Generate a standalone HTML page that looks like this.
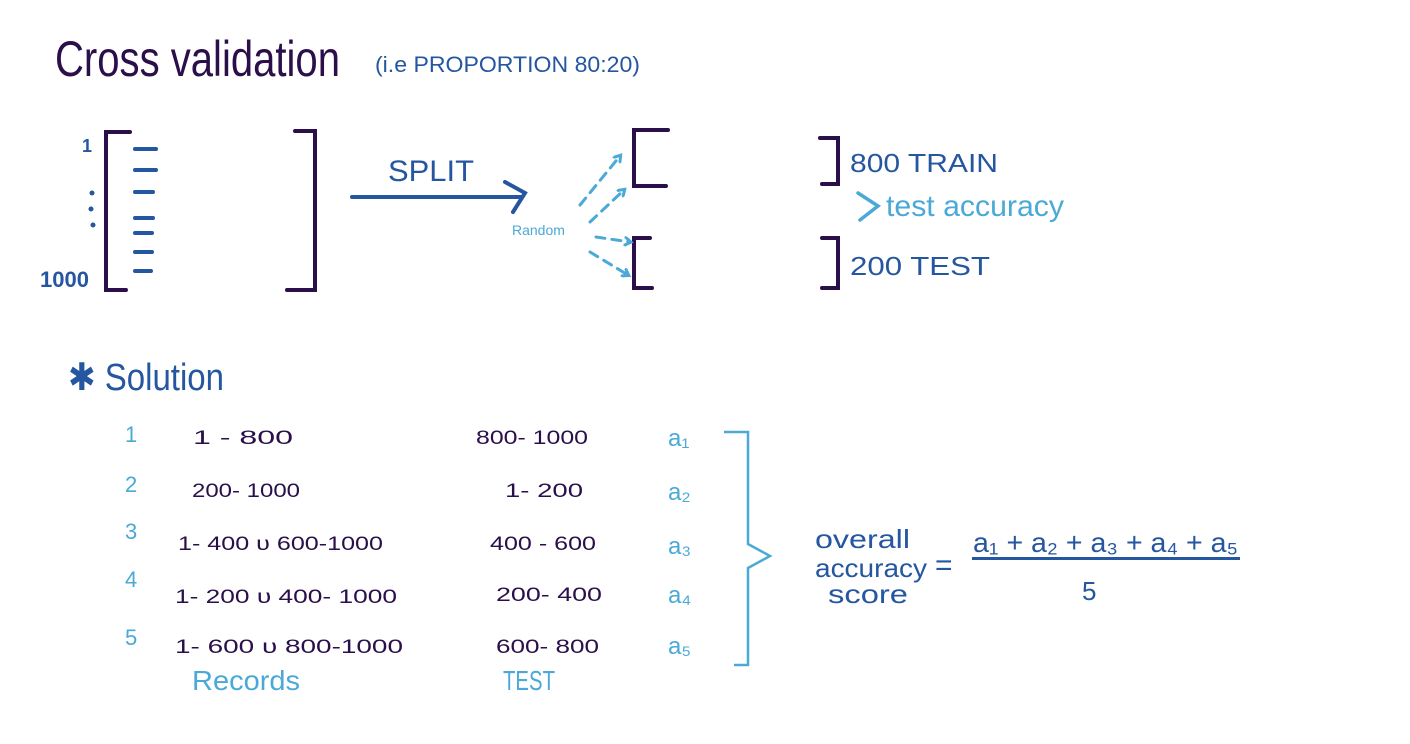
<!DOCTYPE html>
<html><head><style>
html,body{margin:0;padding:0;background:#fff;width:1410px;height:744px;overflow:hidden}
svg text{font-family:"Liberation Sans",sans-serif}
</style></head><body>
<svg width="1410" height="744" viewBox="0 0 1410 744" xmlns="http://www.w3.org/2000/svg">
<defs>
<marker id="ah" markerWidth="10" markerHeight="10" refX="6" refY="5" orient="auto" markerUnits="userSpaceOnUse"><path d="M1,1 L7,5 L1,9" fill="none" stroke="#4aa9d6" stroke-width="3" stroke-linecap="round"/></marker>
</defs>
<g fill="#2a0f4a">
<text x="55" y="76" font-size="50" textLength="285" lengthAdjust="spacingAndGlyphs">Cross validation</text>
</g>
<text x="375" y="72" font-size="22" fill="#2556a0" textLength="265" lengthAdjust="spacingAndGlyphs">(i.e  PROPORTION 80:20)</text>
<g fill="none" stroke="#2a0f4a" stroke-width="4" stroke-linecap="round">
<path d="M130,132 H106 V290 H126"/>
<path d="M295,131 H315 V290 H287"/>
<path d="M668,130 H634 V186 H666"/>
<path d="M820,138 H838 V184 H822"/>
<path d="M650,238 H634 V288 H652"/>
<path d="M822,238 H838 V288 H822"/>
</g>
<g stroke="#2556a0" stroke-width="4" stroke-linecap="round">
<line x1="135" y1="149" x2="156" y2="149"/><line x1="135" y1="170" x2="156" y2="170"/>
<line x1="135" y1="192" x2="153" y2="192"/><line x1="135" y1="218" x2="153" y2="218"/>
<line x1="135" y1="233" x2="152" y2="233"/><line x1="135" y1="252" x2="152" y2="252"/>
<line x1="135" y1="271" x2="151" y2="271"/>
<line x1="352" y1="197" x2="522" y2="197"/>
<path d="M505,182 L525,193 L513,212" fill="none"/>
</g>
<g fill="#2556a0">
<text x="82" y="152" font-size="18" font-weight="bold">1</text>
<circle cx="92" cy="193" r="2.5"/><circle cx="91" cy="209" r="2.5"/><circle cx="93" cy="225" r="2.5"/>
<text x="40" y="287" font-size="22" font-weight="bold">1000</text>
<text x="388" y="181" font-size="30" textLength="86" lengthAdjust="spacingAndGlyphs">SPLIT</text>
<text x="850" y="172" font-size="26" textLength="148" lengthAdjust="spacingAndGlyphs">800 TRAIN</text>
<text x="850" y="275" font-size="26" textLength="140" lengthAdjust="spacingAndGlyphs">200 TEST</text>
<text x="68" y="390" font-size="38" textLength="156" lengthAdjust="spacingAndGlyphs">✱ Solution</text>
<text x="815" y="548" font-size="26" textLength="95" lengthAdjust="spacingAndGlyphs">overall</text>
<text x="815" y="577" font-size="26" textLength="112" lengthAdjust="spacingAndGlyphs">accuracy</text>
<text x="828" y="603" font-size="26" textLength="80" lengthAdjust="spacingAndGlyphs">score</text>
<text x="935" y="575" font-size="30">=</text>
<text x="973" y="552" font-size="28" textLength="265" lengthAdjust="spacingAndGlyphs">a₁ + a₂ + a₃ + a₄ + a₅</text>
<rect x="972" y="557" width="268" height="3"/>
<text x="1082" y="600" font-size="26">5</text>
</g>
<g fill="#4aa9d6">
<text x="512" y="235" font-size="14">Random</text>
<path d="M858,193 L878,206 L860,220" fill="none" stroke="#4aa9d6" stroke-width="3.5" stroke-linecap="round"/>
<text x="886" y="216" font-size="30" textLength="178" lengthAdjust="spacingAndGlyphs">test accuracy</text>
<text x="125" y="442" font-size="22">1</text><text x="125" y="492" font-size="22">2</text>
<text x="125" y="539" font-size="22">3</text><text x="125" y="587" font-size="22">4</text>
<text x="125" y="645" font-size="22">5</text>
<text x="668" y="446" font-size="24">a₁</text><text x="668" y="500" font-size="24">a₂</text>
<text x="668" y="554" font-size="24">a₃</text><text x="668" y="603" font-size="24">a₄</text>
<text x="668" y="654" font-size="24">a₅</text>
<text x="192" y="690" font-size="28" textLength="108" lengthAdjust="spacingAndGlyphs">Records</text>
<text x="503" y="690" font-size="28" textLength="52" lengthAdjust="spacingAndGlyphs">TEST</text>
</g>
<g fill="none" stroke="#4aa9d6" stroke-width="3" stroke-dasharray="9,7" stroke-linecap="round" marker-end="url(#ah)">
<path d="M580,205 L620,156"/><path d="M590,222 L624,190"/>
<path d="M596,237 L630,242"/><path d="M590,252 L628,275"/>
</g>
<path d="M724,432 H748 V544 L770,556 L748,568 V665 H734" fill="none" stroke="#4aa9d6" stroke-width="2.5"/>
<g fill="#2a0f4a" font-size="19">
<text x="193" y="444" textLength="100" lengthAdjust="spacingAndGlyphs">1  - 800</text>
<text x="476" y="444" textLength="112" lengthAdjust="spacingAndGlyphs">800- 1000</text>
<text x="192" y="497" textLength="108" lengthAdjust="spacingAndGlyphs">200- 1000</text>
<text x="505" y="497" textLength="78" lengthAdjust="spacingAndGlyphs">1- 200</text>
<text x="178" y="550" textLength="205" lengthAdjust="spacingAndGlyphs">1- 400  υ  600-1000</text>
<text x="490" y="550" textLength="106" lengthAdjust="spacingAndGlyphs">400 - 600</text>
<text x="175" y="603" textLength="222" lengthAdjust="spacingAndGlyphs">1- 200  υ  400- 1000</text>
<text x="496" y="601" textLength="106" lengthAdjust="spacingAndGlyphs">200- 400</text>
<text x="175" y="653" textLength="228" lengthAdjust="spacingAndGlyphs">1- 600  υ  800-1000</text>
<text x="496" y="653" textLength="103" lengthAdjust="spacingAndGlyphs">600- 800</text>
</g>
</svg>
</body></html>
